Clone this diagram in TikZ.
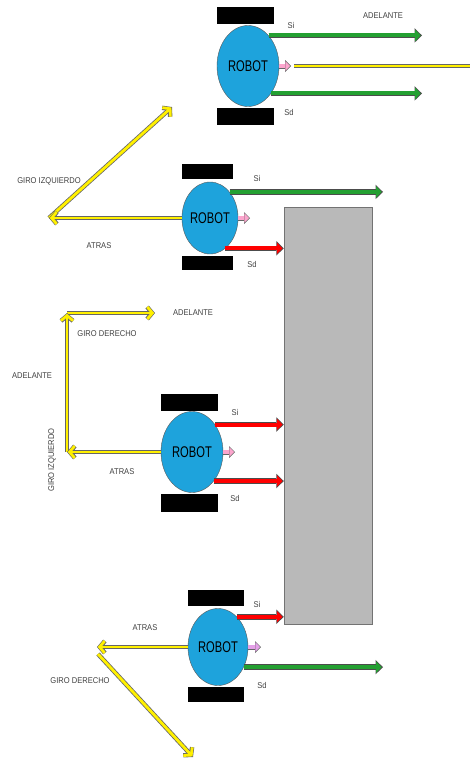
\documentclass[tikz,border=0pt]{standalone}
\usepackage{fontspec}
\usepackage{tikz}
\usepackage{xcolor}
\usetikzlibrary{arrows.meta}
\usetikzlibrary{shapes.geometric}

\newfontfamily\robotfont[FakeStretch=0.72]{Liberation Sans}
\newfontfamily\labelfont[FakeStretch=0.9]{Liberation Sans}

\definecolor{robotblue}{RGB}{30,163,220}
\definecolor{armgreen}{RGB}{36,160,50}
\definecolor{armred}{RGB}{255,0,0}
\definecolor{armyellow}{RGB}{255,240,0}
\definecolor{armpink}{RGB}{252,165,205}
\definecolor{armlilac}{RGB}{228,160,232}
\definecolor{wallgray}{RGB}{185,185,185}

\begin{document}
\begin{tikzpicture}[x=1pt,y=-1pt]
    % Shape and arrow style definitions
    \tikzset{
        robot/.style={ellipse, draw=black!65, fill=robotblue, inner sep=0pt, font=\robotfont\fontsize{15.5}{15}\selectfont},
        wheel/.style={fill=black, inner sep=0pt},
        lbl/.style={text=black!75, inner sep=0pt, font=\labelfont\fontsize{8.4}{9}\selectfont},
        fatout/.style={line width=5.6pt, draw=black!70, -{Triangle[length=7.5pt,width=14.5pt,line width=0pt]}},
        fatin/.style={line width=4pt, draw=#1, shorten >=1.3pt, -{Triangle[length=5.6pt,width=11.5pt,line width=0pt]}},
        nudgeout/.style={line width=5pt, draw=black!60, -{Triangle[length=6pt,width=12pt,line width=0pt]}},
        nudgein/.style={line width=3.6pt, draw=#1, shorten >=1pt, -{Triangle[length=4.6pt,width=9.4pt,line width=0pt]}},
        barbout/.style={line width=4.4pt, draw=black!60, -{Straight Barb[length=5pt,width=12pt]}},
        barbin/.style={line width=2.8pt, draw=armyellow, shorten >=0.8pt, -{Straight Barb[length=5pt,width=12pt]}},
        plainout/.style={line width=4.4pt, draw=black!60},
        plainin/.style={line width=2.8pt, draw=armyellow}
    }
    \useasboundingbox (0,0) rectangle (470,763);

    % Wall
    \node[draw=black!55, fill=wallgray, minimum width=88pt, minimum height=417pt, inner sep=0pt] (wall) at (328,415.5) {};

    % ==========================================
    % ROBOT 1 (free, forward)
    % ==========================================
    \node[robot, minimum width=62pt, minimum height=81pt] (r1) at (248,66) {ROBOT};
    \node[wheel, minimum width=57pt, minimum height=17pt] (w1t) at (245.5,15.5) {};
    \node[wheel, minimum width=57pt, minimum height=17pt] (w1b) at (245.5,116.5) {};
    \coordinate (f1) at (422,36);
    \coordinate (p1) at (291,66);
    \coordinate (y1s) at (294,66);
    \coordinate (y1e) at (474,66);
    \draw[fatout] (r1.56) -- (r1.56 -| f1);
    \draw[fatin=armgreen] (r1.56) -- (r1.56 -| f1);
    \draw[fatout] (r1.-50) -- (r1.-50 -| f1);
    \draw[fatin=armgreen] (r1.-50) -- (r1.-50 -| f1);
    \draw[nudgeout] (r1.east) -- (p1);
    \draw[nudgein=armpink] (r1.east) -- (p1);
    \draw[plainout] (y1s) -- (y1e);
    \draw[plainin] (y1s) -- (y1e);
    \node[lbl] (l1fwd) at (383,16) {ADELANTE};
    \node[lbl] (l1si) at (291,25) {Si};
    \node[lbl] (l1sd) at (289,112) {Sd};

    % ==========================================
    % ROBOT 2 (right side blocked)
    % ==========================================
    \node[robot, minimum width=56pt, minimum height=72pt] (r2) at (210,218) {ROBOT};
    \node[wheel, minimum width=51pt, minimum height=15pt] (w2t) at (207.5,171.5) {};
    \node[wheel, minimum width=51pt, minimum height=14pt] (w2b) at (207.5,263) {};
    \coordinate (f2) at (383,192);
    \coordinate (p2) at (250,218);
    \coordinate (v2) at (49,218);
    \coordinate (t2) at (172,107);
    \draw[fatout] (r2.53) -- (r2.53 -| f2);
    \draw[fatin=armgreen] (r2.53) -- (r2.53 -| f2);
    \draw[fatout] (r2.-63) -- (r2.-63 -| wall.west);
    \draw[fatin=armred] (r2.-63) -- (r2.-63 -| wall.west);
    \draw[nudgeout] (r2.east) -- (p2);
    \draw[nudgein=armpink] (r2.east) -- (p2);
    \draw[barbout] (v2) -- (t2);
    \draw[barbin] (v2) -- (t2);
    \draw[barbout] (r2.west) -- (v2);
    \draw[barbin] (r2.west) -- (v2);
    \node[lbl] (l2turn) at (49,181) {GIRO IZQUIERDO};
    \node[lbl] (l2back) at (99,246) {ATRAS};
    \node[lbl] (l2si) at (257,178) {Si};
    \node[lbl] (l2sd) at (252,264) {Sd};

    % ==========================================
    % ROBOT 3 (facing the wall)
    % ==========================================
    \node[robot, minimum width=62pt, minimum height=81pt] (r3) at (192,452) {ROBOT};
    \node[wheel, minimum width=57pt, minimum height=17pt] (w3t) at (189.5,402.5) {};
    \node[wheel, minimum width=57pt, minimum height=18pt] (w3b) at (189.5,503) {};
    \coordinate (p3) at (235,452);
    \coordinate (v3a) at (67,452);
    \coordinate (v3b) at (67,313);
    \coordinate (t3) at (155,313);
    \draw[fatout] (r3.50) -- (r3.50 -| wall.west);
    \draw[fatin=armred] (r3.50) -- (r3.50 -| wall.west);
    \draw[fatout] (r3.-53) -- (r3.-53 -| wall.west);
    \draw[fatin=armred] (r3.-53) -- (r3.-53 -| wall.west);
    \draw[nudgeout] (r3.east) -- (p3);
    \draw[nudgein=armpink] (r3.east) -- (p3);
    \draw[barbout] (v3b) -- (t3);
    \draw[barbin] (v3b) -- (t3);
    \draw[barbout] (v3a) -- (v3b);
    \draw[barbin] (v3a) -- (v3b);
    \draw[barbout] (r3.west) -- (v3a);
    \draw[barbin] (r3.west) -- (v3a);
    \node[lbl] (l3fwd) at (193,313) {ADELANTE};
    \node[lbl] (l3turnr) at (107,334) {GIRO DERECHO};
    \node[lbl] (l3up) at (32,376) {ADELANTE};
    \node[lbl, rotate=90] (l3turnl) at (52,460) {GIRO IZQUIERDO};
    \node[lbl] (l3back) at (122,472) {ATRAS};
    \node[lbl] (l3si) at (235,412) {Si};
    \node[lbl] (l3sd) at (235,498) {Sd};

    % ==========================================
    % ROBOT 4 (left side blocked)
    % ==========================================
    \node[robot, minimum width=60pt, minimum height=77pt] (r4) at (218,647) {ROBOT};
    \node[wheel, minimum width=56pt, minimum height=16pt] (w4t) at (216,598) {};
    \node[wheel, minimum width=56pt, minimum height=15pt] (w4b) at (216,694.5) {};
    \coordinate (f4) at (383,667);
    \coordinate (p4) at (261,647);
    \coordinate (v4) at (97,647);
    \coordinate (v4s) at (98,654);
    \coordinate (t4) at (193,757);
    \draw[fatout] (r4.58) -- (r4.58 -| wall.west);
    \draw[fatin=armred] (r4.58) -- (r4.58 -| wall.west);
    \draw[fatout] (r4.-38) -- (r4.-38 -| f4);
    \draw[fatin=armgreen] (r4.-38) -- (r4.-38 -| f4);
    \draw[nudgeout] (r4.east) -- (p4);
    \draw[nudgein=armlilac] (r4.east) -- (p4);
    \draw[barbout] (v4s) -- (t4);
    \draw[barbin] (v4s) -- (t4);
    \draw[barbout] (r4.west) -- (v4);
    \draw[barbin] (r4.west) -- (v4);
    \node[lbl] (l4back) at (145,628) {ATRAS};
    \node[lbl] (l4turn) at (80,681) {GIRO DERECHO};
    \node[lbl] (l4si) at (257,604) {Si};
    \node[lbl] (l4sd) at (262,685) {Sd};
\end{tikzpicture}
\end{document}
